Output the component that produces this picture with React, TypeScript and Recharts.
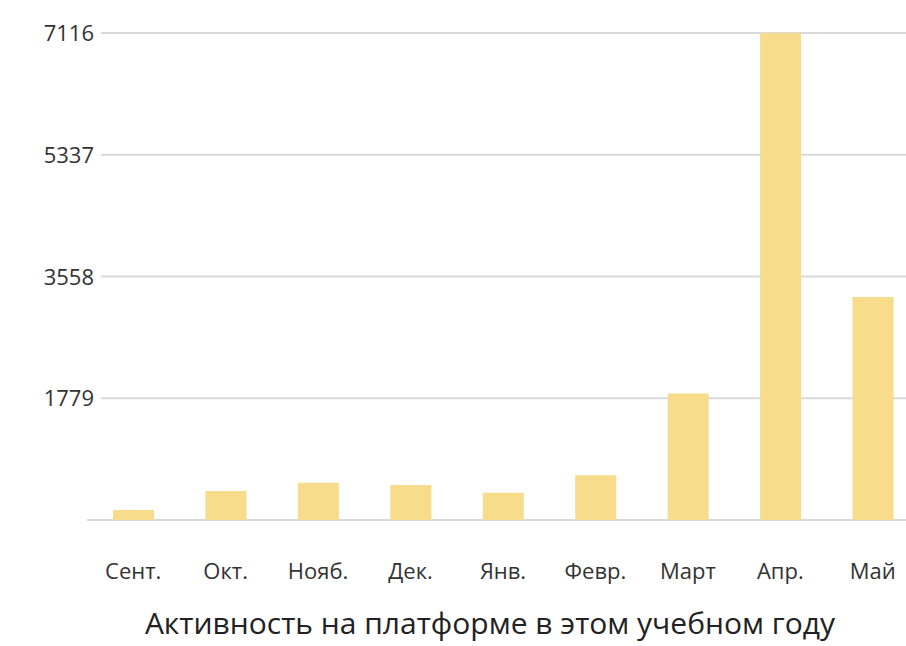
import { BarChart, Bar, XAxis, YAxis, CartesianGrid } from "recharts";

const months = ["Сент.", "Окт.", "Нояб.", "Дек.", "Янв.", "Февр.", "Март", "Апр.", "Май"];
const activity = [145, 425, 545, 510, 400, 655, 1850, 7116, 3260];
const yTicks = [0, 1779, 3558, 5337, 7116];
const title = "Активность на платформе в этом учебном году";

const data = months.map((m, i) => ({ month: m, value: activity[i] }));

const FONT = "'Open Sans', 'Noto Sans', sans-serif";

const YTick = (props: any) => {
  const { x, y, payload } = props;
  if (payload.value === 0) return null;
  return (
    <g>
      <rect x={x - 44} y={y - 14} width={66} height={28} fill='#fff' />
      <text
        x={x + 15}
        y={y}
        dy={8}
        textAnchor='end'
        fontSize={22}
        fontFamily={FONT}
        fill='#333'
      >
        {payload.value}
      </text>
    </g>
  );
};

const XTick = (props: any) => {
  const { x, y, payload } = props;
  return (
    <text
      x={x}
      y={y}
      dy={51}
      textAnchor='middle'
      fontSize={22}
      fontFamily={FONT}
      fill='#333'
    >
      {payload.value}
    </text>
  );
};

export default function App() {
  return (
    <div
      style={{
        position: "fixed",
        top: 0,
        left: 0,
        width: 906,
        height: 646,
        overflow: "hidden",
        background: "#fff",
      }}
    >
      <BarChart
        width={919}
        height={600}
        data={data}
        margin={{ top: 33, right: 0, left: 0, bottom: 30 }}
        barSize={41}
      >
        <CartesianGrid vertical={false} stroke='#d9d9d9' strokeWidth={2} />
        <XAxis
          dataKey='month'
          axisLine={false}
          tickLine={false}
          height={50}
          tick={<XTick />}
          interval={0}
        />
        <YAxis
          width={87}
          domain={[0, 7116]}
          ticks={yTicks}
          axisLine={false}
          tickLine={false}
          tick={<YTick />}
        />
        <Bar dataKey='value' fill='#f6dc8b' isAnimationActive={false} />
      </BarChart>
      <div
        style={{
          position: "absolute",
          top: 607,
          left: 0,
          width: 906,
          paddingLeft: 74,
          boxSizing: "border-box",
          textAlign: "center",
          fontFamily: FONT,
          fontSize: 30,
          color: "#222",
          lineHeight: "32px",
          whiteSpace: "nowrap",
        }}
      >
        {title}
      </div>
    </div>
  );
}
